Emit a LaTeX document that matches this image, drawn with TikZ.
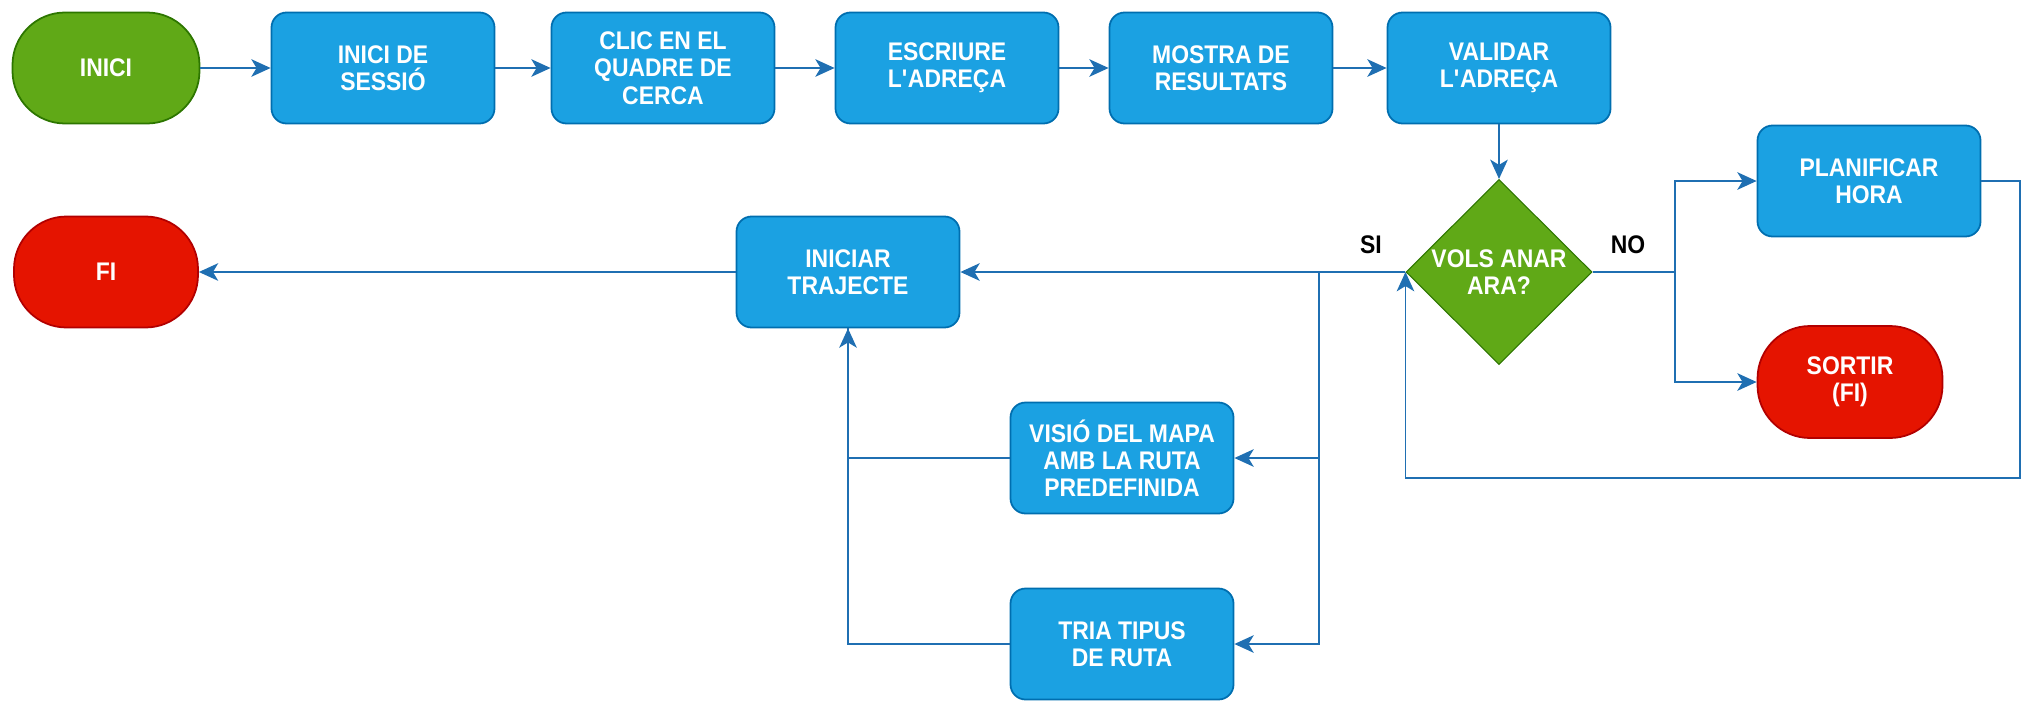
\documentclass[tikz,border=0pt]{standalone}
\usepackage{fontspec}
\setmainfont{Liberation Sans}[FakeStretch=0.9]
\usetikzlibrary{arrows.meta, shapes.geometric, positioning}

\definecolor{boxblue}{HTML}{1BA1E2}
\definecolor{boxblueline}{HTML}{006EAF}
\definecolor{startgreen}{HTML}{60A917}
\definecolor{startgreenline}{HTML}{2D7600}
\definecolor{stopred}{HTML}{E51400}
\definecolor{stopredline}{HTML}{B20000}
\definecolor{linkblue}{HTML}{1F6FB2}

\tikzset{
    flowtext/.style={text=white, font=\bfseries\fontsize{14.5}{15.5}\selectfont, align=center},
    stepbox/.style={flowtext, draw=boxblueline, fill=boxblue, line width=1pt, rounded corners=0.3cm, minimum width=4.46cm, minimum height=2.22cm},
    terminal/.style={flowtext, draw=#1line, fill=#1, line width=1pt, rounded corners=1.05cm, minimum width=3.74cm, minimum height=2.22cm},
    choice/.style={flowtext, diamond, draw=startgreenline, fill=startgreen, line width=0.6pt, minimum width=3.72cm, minimum height=3.7cm, inner sep=0pt},
    wire/.style={draw=linkblue, line width=1pt},
    link/.style={wire, -{Stealth[length=11pt, width=10pt, inset=3pt]}},
    answer/.style={font=\bfseries\fontsize{14.5}{15.5}\selectfont}
}

\begin{document}
\begin{tikzpicture}

\useasboundingbox (0,0) rectangle (40.48,-14);

% start
\node[terminal=startgreen] (inici) at (2.12,-1.36) {INICI};

% first row of steps
\foreach \name/\x/\txt in {sessio/7.66/{INICI DE\\SESSIÓ}, clic/13.26/{CLIC EN EL\\QUADRE DE\\CERCA}, escriure/18.94/{ESCRIURE\\L\textquotesingle ADREÇA}, mostra/24.42/{MOSTRA DE\\RESULTATS}, validar/29.98/{VALIDAR\\L\textquotesingle ADREÇA}} {
    \node[stepbox] (\name) at (\x,-1.36) {\txt};
}

% connect the first row
\foreach \a/\b in {inici/sessio, sessio/clic, clic/escriure, escriure/mostra, mostra/validar} {
    \draw[link] (\a) -- (\b);
}

% decision
\node[choice] (vols) at (29.98,-5.44) {VOLS ANAR\\ARA?};
\draw[link] (validar) -- (vols);

% NO branch
\node[stepbox] (planificar) at (37.38,-3.62) {PLANIFICAR\\HORA};
\node[terminal=stopred, minimum width=3.7cm, minimum height=2.24cm] (sortir) at (37.0,-7.64) {SORTIR\\(FI)};
\coordinate (nosplit) at (33.5,-5.44);
\draw[link] (vols.east) -- (nosplit) |- (planificar.west);
\draw[link] (nosplit) |- (sortir.west);

% back to the decision
\coordinate (loopcorner) at (40.4,-9.56);
\draw[link] (planificar.east) -| (loopcorner) -| (vols.west);

% SI branch
\node[stepbox] (iniciar) at (16.96,-5.44) {INICIAR\\TRAJECTE};
\node[stepbox] (visio) at (22.44,-9.16) {VISIÓ DEL MAPA\\AMB LA RUTA\\PREDEFINIDA};
\node[stepbox] (tria) at (22.44,-12.88) {TRIA TIPUS\\DE RUTA};
\coordinate (sisplit) at (26.38,-5.44);
\draw[link] (vols.west) -- (iniciar.east);
\draw[link] (sisplit) |- (visio.east);
\draw[link] (sisplit) |- (tria.east);

% join below INICIAR TRAJECTE
\draw[wire] (visio.west) -| (iniciar.south);
\draw[link] (tria.west) -| (iniciar.south);

% end
\node[terminal=stopred, minimum width=3.68cm] (fi) at (2.12,-5.44) {FI};
\draw[link] (iniciar) -- (fi);

% answers
\node[answer] (si) at (27.42,-4.9) {SI};
\node[answer] (no) at (32.56,-4.9) {NO};

\end{tikzpicture}
\end{document}
